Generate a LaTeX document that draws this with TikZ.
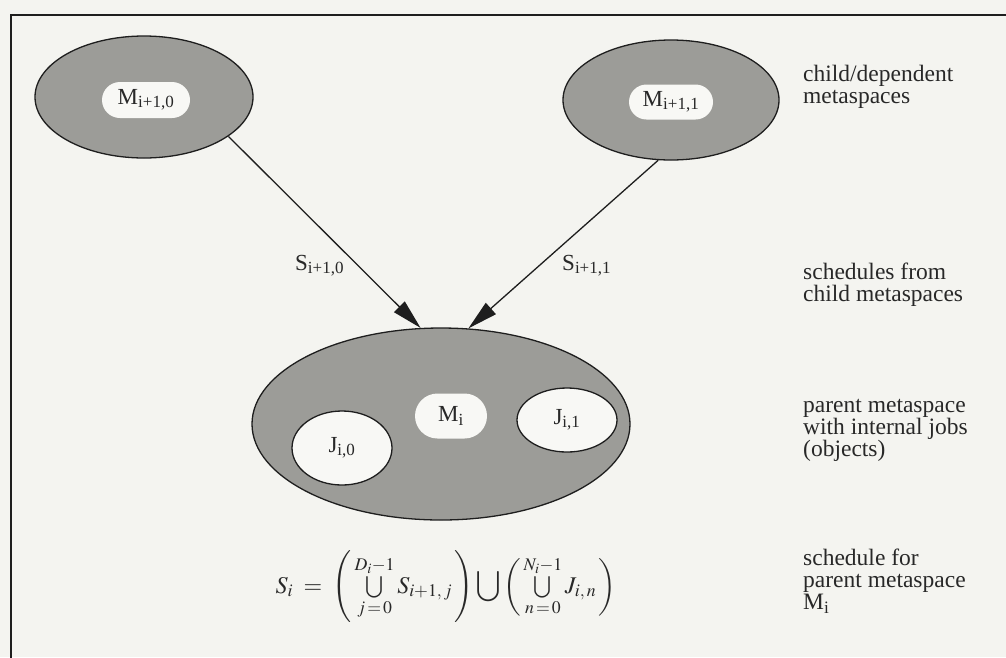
\documentclass[tikz,border=0pt]{standalone}
\usepackage{mathptmx}
\usepackage{fontspec}
\setmainfont{Liberation Serif}
\usetikzlibrary{shapes.geometric,shapes.misc,arrows.meta}
\definecolor{bg}{RGB}{244,244,240}
\definecolor{ink}{RGB}{30,30,30}
\definecolor{txt}{RGB}{40,40,40}
\definecolor{shade}{RGB}{156,156,152}
\definecolor{paper}{RGB}{248,248,245}
\begin{document}
\begin{tikzpicture}[x=1pt,y=-1pt,
  outer/.style={ellipse, draw=ink, line width=1.3pt, fill=shade, inner sep=0pt},
  pill/.style={rounded rectangle, fill=paper, inner sep=0pt, text=txt, font=\fontsize{23}{24}\selectfont},
  job/.style={ellipse, draw=ink, line width=1.3pt, fill=paper, inner sep=0pt, text=txt, font=\fontsize{23}{24}\selectfont},
  note/.style={anchor=north west, align=left, inner sep=0pt, text=txt, font=\fontsize{23.5}{22}\selectfont},
  lab/.style={anchor=base west, inner sep=0pt, text=txt, font=\fontsize{23}{24}\selectfont},
  conn/.style={draw=ink, line width=1.3pt, -{Triangle[length=30pt,width=15pt]}},
  frame/.style={draw=ink, line width=2pt}]
\useasboundingbox (0,0) rectangle (1006,657);
\fill[bg] (0,0) rectangle (1006,657);
% frame
\coordinate (fbl) at (11,660);
\coordinate (ftl) at (11,15);
\coordinate (ftr) at (1010,15);
\draw[frame] (fbl) -- (ftl) -- (ftr);
% child metaspaces
\node[outer, minimum width=218pt, minimum height=122pt] (m10) at (144,97) {};
\node[pill, minimum width=88pt, minimum height=36pt] (p10) at (146,100) {M\textsubscript{i+1,0}};
\node[outer, minimum width=216pt, minimum height=120pt] (m11) at (671,100) {};
\node[pill, minimum width=84pt, minimum height=35pt] (p11) at (671,102) {M\textsubscript{i+1,1}};
% parent metaspace
\node[outer, minimum width=378pt, minimum height=192pt] (mi) at (441,424) {};
\node[pill, minimum width=72pt, minimum height=45pt] (pmi) at (451,416) {M\textsubscript{i}};
\node[job, minimum width=100pt, minimum height=74pt] (j0) at (342,448) {J\textsubscript{i,0}};
\node[job, minimum width=100pt, minimum height=64pt] (j1) at (567,420) {J\textsubscript{i,1}};
% connectors
\draw[conn] (m10.-25.5) -- (mi.102.5);
\draw[conn] (m11.-102) -- (mi.74);
\node[lab] (s10) at (295,270) {S\textsubscript{i+1,0}};
\node[lab] (s11) at (562,270) {S\textsubscript{i+1,1}};
% formula
\node[inner sep=0pt, text=txt, font=\fontsize{24}{28}\selectfont] (eq) at (446,587)
  {$S_i \;=\; \left(\,\mathop{\textstyle\bigcup}\limits_{j\,=\,0}^{D_i-1} S_{i+1,\,j}\,\right) \displaystyle\bigcup \left(\,\mathop{\textstyle\bigcup}\limits_{n\,=\,0}^{N_i-1} J_{i,\,n}\,\right)$};
% notes
\node[note] (n1) at (803,65) {child/dependent\\metaspaces};
\node[note] (n2) at (803,263) {schedules from\\child metaspaces};
\node[note] (n3) at (803,399) {parent metaspace\\with internal jobs\\(objects)};
\node[note] (n4) at (803,549) {schedule for\\parent metaspace\\M\textsubscript{i}};
\end{tikzpicture}
\end{document}
